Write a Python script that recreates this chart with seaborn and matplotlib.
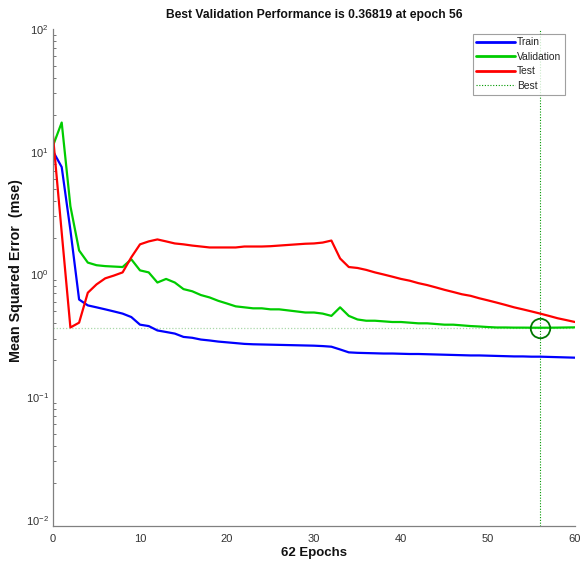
import numpy as np
import pandas as pd
import matplotlib
matplotlib.use("Agg")
import matplotlib.pyplot as plt
import seaborn as sns
from matplotlib.lines import Line2D

epochs = list(range(0, 61))

train = [10.1, 7.5, 2.3, 0.625, 0.56, 0.54, 0.52, 0.50, 0.48, 0.45,
         0.39, 0.38, 0.35, 0.34, 0.33, 0.31, 0.305, 0.295, 0.29, 0.284,
         0.28, 0.276, 0.272, 0.27, 0.269, 0.268, 0.267, 0.266, 0.265, 0.264,
         0.263, 0.261, 0.258, 0.245, 0.232, 0.23, 0.229, 0.228, 0.227, 0.227,
         0.226, 0.225, 0.225, 0.224, 0.223, 0.222, 0.221, 0.220, 0.219, 0.219,
         0.218, 0.217, 0.216, 0.215, 0.215, 0.214, 0.214, 0.213, 0.212, 0.211,
         0.21]

validation = [11.2, 17.3, 3.6, 1.57, 1.25, 1.19, 1.17, 1.16, 1.15, 1.33,
              1.08, 1.04, 0.86, 0.92, 0.86, 0.76, 0.73, 0.68, 0.65, 0.61,
              0.58, 0.55, 0.54, 0.53, 0.53, 0.52, 0.52, 0.51, 0.50, 0.49,
              0.49, 0.48, 0.46, 0.54, 0.46, 0.43, 0.42, 0.42, 0.415, 0.41,
              0.41, 0.405, 0.40, 0.40, 0.395, 0.39, 0.39, 0.385, 0.38, 0.377,
              0.373, 0.37, 0.37, 0.369, 0.369, 0.3685, 0.36819, 0.3685, 0.369, 0.37,
              0.371]

test = [13.4, 2.2, 0.37, 0.405, 0.71, 0.83, 0.93, 0.98, 1.04, 1.38,
        1.76, 1.86, 1.93, 1.86, 1.79, 1.76, 1.72, 1.69, 1.66, 1.66,
        1.66, 1.66, 1.69, 1.69, 1.69, 1.70, 1.72, 1.74, 1.76, 1.78,
        1.79, 1.82, 1.89, 1.35, 1.15, 1.13, 1.09, 1.04, 1.00, 0.96,
        0.92, 0.89, 0.85, 0.82, 0.785, 0.75, 0.72, 0.69, 0.67, 0.64,
        0.615, 0.59, 0.565, 0.54, 0.52, 0.50, 0.48, 0.46, 0.44, 0.425,
        0.41]

best_epoch = 56
best_perf = 0.36819
n_epochs = 62

series_names = ["Train", "Validation", "Test"]
series_colors = ["#0000ff", "#00cc00", "#ff0000"]

df = pd.DataFrame({
    "Epoch": epochs * 3,
    "MSE": train + validation + test,
    "Set": ["Train"] * len(epochs) + ["Validation"] * len(epochs) + ["Test"] * len(epochs),
})

sns.set_style("white")
plt.rcParams["font.family"] = ["Liberation Sans", "DejaVu Sans"]
plt.rcParams["axes.unicode_minus"] = False

fig = plt.figure(figsize=(5.81, 5.62), dpi=100)
ax = fig.add_axes([53 / 581, 1 - 526 / 562, (575 - 53) / 581, (526 - 29) / 562])

sns.lineplot(data=df, x="Epoch", y="MSE", hue="Set", hue_order=series_names,
             palette=series_colors, linewidth=1.6, ax=ax, legend=False,
             estimator=None, sort=False)

ax.set_yscale("log")
ax.set_xlim(0, 60)
ax.set_ylim(0.00893, 100)

ax.axvline(best_epoch, color="#009900", linestyle=(0, (1, 1.5)), linewidth=0.8, zorder=1)
ax.axhline(best_perf, color="#aad8aa", linestyle=(0, (1, 1.5)), linewidth=0.9, zorder=1)
ax.plot([best_epoch], [best_perf], marker="o", markersize=14, markerfacecolor="none",
        markeredgecolor="#007700", markeredgewidth=1.3, zorder=5)

for side in ["top", "right"]:
    ax.spines[side].set_visible(False)
for side in ["left", "bottom"]:
    ax.spines[side].set_color("#808080")
    ax.spines[side].set_linewidth(0.9)

ax.set_xticks([0, 10, 20, 30, 40, 50, 60])
ax.tick_params(axis="both", which="both", direction="in", colors="#606060",
               labelcolor="#333333", labelsize=8)
ax.tick_params(axis="both", which="major", length=4)
ax.tick_params(axis="y", which="minor", length=2, left=True)
ax.tick_params(axis="x", which="major", pad=6)
ax.tick_params(axis="y", which="major", pad=3)
ax.yaxis.set_minor_locator(matplotlib.ticker.LogLocator(base=10, subs=np.arange(2, 10)))

ax.set_xlabel(f"{n_epochs} Epochs", fontsize=9.5, fontweight="bold", color="#111111", labelpad=2)
ax.set_ylabel("Mean Squared Error  (mse)", fontsize=10.3, fontweight="bold", color="#111111")
ax.yaxis.set_label_coords((23 - 53) / 522, (526 - 270.5) / 497)
ax.set_title(f"Best Validation Performance is {best_perf} at epoch {best_epoch}",
             fontsize=8.7, fontweight="bold", color="#111111", pad=8)

handles = [Line2D([0], [0], color=c, linewidth=2) for c in series_colors]
handles.append(Line2D([0], [0], color="#009900", linestyle=(0, (1, 1.5)), linewidth=0.8))
leg = ax.legend(handles, series_names + ["Best"], loc="upper right",
                bbox_to_anchor=(0.985, 0.995), fontsize=7.4, frameon=True, fancybox=False,
                handlelength=3.8, handletextpad=0.2, borderpad=0.35, labelspacing=0.45,
                borderaxespad=0.2)
leg.get_frame().set_edgecolor("#888888")
leg.get_frame().set_linewidth(0.8)

fig.savefig("out.png", dpi=100)
